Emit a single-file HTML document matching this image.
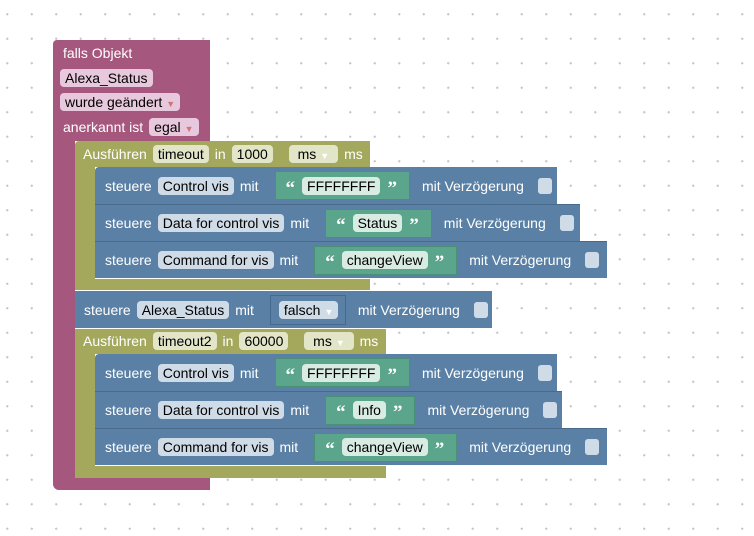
<!DOCTYPE html>
<html><head><style>
body{margin:0;width:754px;height:536px;overflow:hidden;background:#fff;
background-image:radial-gradient(circle,#c8c8c8 1px,transparent 1.3px);background-size:24.5px 24.5px;background-position:-5px 2px;
font-family:"Liberation Sans",sans-serif;font-size:14px;color:#fff;position:relative}
.b{position:absolute}
.pk{background:#a5577e}.ol{background:#a3a85c}.bl{background:#5b80a5}.gr{background:#5ba58c}
.row{position:absolute;display:flex;align-items:center;gap:6px;padding-left:10px;box-sizing:border-box;white-space:nowrap}
.f{border-radius:4px;padding:1px 5px;color:#000}
.fp{background:#e8c8dc}.fo{background:#e3e5c8}.fb{background:#d0dbe8}.fg{background:#d8ece3}
.dd{color:#fff;font-size:9px;margin-left:4px}
.cb{display:inline-block;width:14px;height:16px;background:#d0dbe8;border-radius:3px;margin-left:8px}
.q{font-family:"Liberation Serif",serif;font-weight:bold;font-size:19px;color:#fff;line-height:10px;padding-top:6px}
.gv{display:flex;align-items:center;gap:7px;height:29px;padding:0 12px 0 10px;border:1px solid #4a8f77;box-sizing:border-box;margin-left:10px;margin-right:6px}
.sep{border-top:1px solid #4a6a8c}
</style></head><body>
<div class="b pk" style="left:53px;top:40px;width:157px;height:101px;border-radius:4px 0 0 0"></div>
<div class="b pk" style="left:53px;top:140px;width:22px;height:345px"></div>
<div class="b pk" style="left:53px;top:478px;width:157px;height:12px;border-radius:0 0 0 6px"></div>
<div class="row" style="left:53px;top:42px;height:22px">falls Objekt</div>
<div class="row" style="left:53px;top:66px;height:24px;padding-left:7px"><span class="f fp">Alexa_Status</span></div>
<div class="row" style="left:53px;top:90px;height:24px;padding-left:7px"><span class="f fp">wurde geändert<span class="dd" style="color:#c77">▼</span></span></div>
<div class="row" style="left:53px;top:115px;height:24px">anerkannt ist <span class="f fp">egal<span class="dd" style="color:#c77">▼</span></span></div>

<div class="b ol" style="left:75px;top:141px;width:295px;height:26px;border-radius:4px 0 0 0"></div>
<div class="b ol" style="left:75px;top:166px;width:20px;height:124px"></div>
<div class="b ol" style="left:75px;top:279px;width:295px;height:11px"></div>
<div class="row" style="left:75px;top:142px;height:24px;padding-left:8px">Ausführen <span class="f fo">timeout</span> in <span class="f fo">1000</span>&nbsp;<span class="f fo">&nbsp;ms<span class="dd">▼</span>&nbsp;</span> ms</div>

<div class="row bl" style="left:95px;top:167px;width:462px;height:37px;border-radius:4px 0 0 0">steuere <span class="f fb">Control vis</span> mit <span class="gv gr"><span class="q">“</span><span class="f fg">FFFFFFFF</span><span class="q">”</span></span>mit Verzögerung <span class="cb"></span></div>
<div class="row bl sep" style="left:95px;top:204px;width:485px;height:37px">steuere <span class="f fb">Data for control vis</span> mit <span class="gv gr"><span class="q">“</span><span class="f fg">Status</span><span class="q">”</span></span>mit Verzögerung <span class="cb"></span></div>
<div class="row bl sep" style="left:95px;top:241px;width:512px;height:37px">steuere <span class="f fb">Command for vis</span> mit <span class="gv gr"><span class="q">“</span><span class="f fg">changeView</span><span class="q">”</span></span>mit Verzögerung <span class="cb"></span></div>

<div class="row bl" style="left:75px;top:291px;width:417px;height:37px;padding-left:9px">steuere <span class="f fb">Alexa_Status</span> mit <span class="gv bl" style="border-color:#456a90;width:76px;height:30px;padding-left:8px"><span class="f fb">falsch<span class="dd">▼</span></span></span>mit Verzögerung <span class="cb"></span></div>

<div class="b ol" style="left:75px;top:329px;width:311px;height:25px"></div>
<div class="b ol" style="left:75px;top:353px;width:20px;height:125px"></div>
<div class="b ol" style="left:75px;top:466px;width:311px;height:12px;border-radius:0 0 0 5px"></div>
<div class="row" style="left:75px;top:329px;height:24px;padding-left:8px">Ausführen <span class="f fo">timeout2</span> in <span class="f fo">60000</span>&nbsp;<span class="f fo">&nbsp;ms<span class="dd">▼</span>&nbsp;</span> ms</div>

<div class="row bl" style="left:95px;top:354px;width:462px;height:37px;border-radius:4px 0 0 0">steuere <span class="f fb">Control vis</span> mit <span class="gv gr"><span class="q">“</span><span class="f fg">FFFFFFFF</span><span class="q">”</span></span>mit Verzögerung <span class="cb"></span></div>
<div class="row bl sep" style="left:95px;top:391px;width:467px;height:37px">steuere <span class="f fb">Data for control vis</span> mit <span class="gv gr"><span class="q">“</span><span class="f fg">Info</span><span class="q">”</span></span>mit Verzögerung <span class="cb"></span></div>
<div class="row bl sep" style="left:95px;top:428px;width:512px;height:37px">steuere <span class="f fb">Command for vis</span> mit <span class="gv gr"><span class="q">“</span><span class="f fg">changeView</span><span class="q">”</span></span>mit Verzögerung <span class="cb"></span></div>
</body></html>
